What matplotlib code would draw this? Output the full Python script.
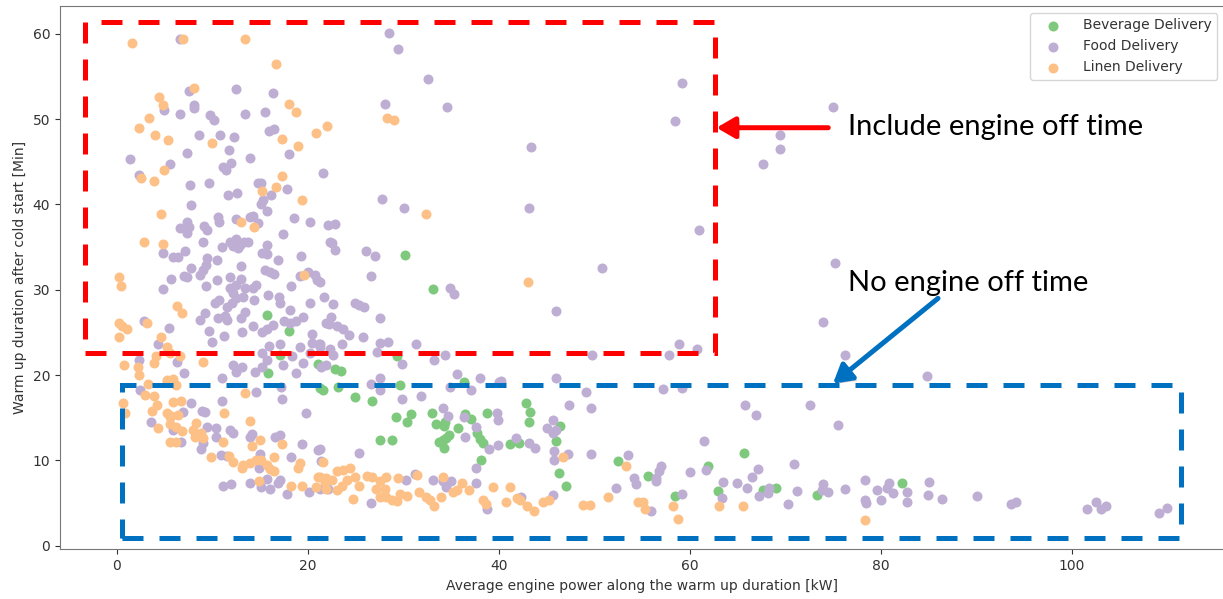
import numpy as np
import matplotlib
matplotlib.use('Agg')
import matplotlib.pyplot as plt
from matplotlib.patches import Rectangle, FancyArrowPatch
import matplotlib.patheffects as pe

# (average engine power [kW], warm up duration [min]) per trip
beverage_points = [
    (18.0, 25.2), (15.7, 27.0), (17.1, 22.4), (21.1, 21.3), (15.8, 20.3), (21.6, 18.3),
    (21.3, 18.5), (23.1, 18.6), (22.8, 20.7), (23.5, 20.5), (29.3, 22.2), (30.2, 34.1),
    (33.1, 30.1), (29.6, 18.8), (36.4, 19.2), (24.9, 17.4), (26.7, 17.0), (42.8, 16.7),
    (43.3, 15.7), (43.2, 14.5), (33.0, 15.6), (33.4, 14.3), (34.3, 14.0), (34.4, 14.5),
    (29.2, 15.1), (30.4, 14.5), (30.8, 15.4), (36.5, 15.4), (37.1, 14.8), (38.8, 15.6),
    (35.7, 13.8), (37.7, 13.2), (38.0, 12.5), (38.3, 12.0), (33.7, 12.1), (34.2, 12.4),
    (34.3, 11.4), (34.8, 13.0), (34.5, 12.6), (27.5, 12.4), (28.8, 12.4), (41.2, 11.9),
    (42.1, 12.0), (46.4, 14.0), (46.0, 12.3), (38.1, 10.1), (46.3, 8.5), (47.0, 7.0),
    (52.5, 9.9), (55.6, 8.2), (61.9, 9.3), (65.7, 10.9), (58.4, 5.8), (63.0, 6.4),
    (67.7, 6.5), (69.0, 6.8), (73.3, 5.9), (82.2, 7.4),
]

food_points = [
    (6.6, 59.4), (7.5, 53.3), (12.5, 53.5), (16.3, 53.1), (4.95, 51.1), (6.6, 50.6),
    (8.1, 51.7), (8.1, 51.3), (9.7, 50.5), (10.2, 49.9), (13.4, 50.6), (15.5, 50.8),
    (8.6, 48.1), (10.8, 48.2), (12.3, 47.9), (15.9, 48.6), (16.4, 48.9), (11.7, 46.4),
    (7.3, 46.0), (1.4, 45.3), (13.9, 45.4), (18.0, 45.9), (5.55, 44.7), (11.9, 44.9),
    (11.1, 44.4), (11.4, 44.0), (2.3, 43.4), (7.6, 42.3), (9.6, 42.5), (14.8, 42.5),
    (15.1, 42.5), (17.8, 41.8), (16.1, 41.1), (21.6, 43.7), (11.6, 41.1), (12.6, 41.4),
    (15.3, 40.5),
    (28.5, 60.1), (29.4, 58.2), (32.6, 54.7), (28.1, 51.8), (34.6, 51.4), (43.4, 46.7),
    (27.8, 40.7),
    (59.2, 54.3), (58.5, 49.8), (75.0, 51.4), (69.4, 48.1), (69.4, 46.5), (67.7, 44.8),
    (61.0, 37.0), (75.2, 33.1),
    (73.9, 26.2), (58.9, 23.6), (57.8, 22.3), (60.8, 23.1), (76.3, 22.3), (57.2, 18.4),
    (59.2, 18.5), (65.8, 16.5), (66.9, 15.3), (72.6, 16.5), (75.5, 14.1), (61.5, 12.3),
    (53.5, 10.6), (57.0, 9.4), (56.8, 8.7), (56.5, 7.9), (56.5, 7.6), (61.7, 8.9),
    (60.0, 8.6), (70.9, 9.6), (67.1, 9.0), (66.5, 8.0), (54.2, 7.9), (54.4, 7.2),
    (52.3, 6.8), (63.5, 7.5), (64.9, 7.4), (66.0, 6.8), (63.4, 5.6), (68.3, 6.8),
    (68.2, 6.2), (67.2, 5.8), (71.2, 6.4), (70.3, 4.85), (74.0, 7.2), (73.8, 6.5),
    (74.5, 6.3), (76.3, 6.6), (78.4, 7.7), (78.4, 5.4), (78.5, 5.0), (79.6, 6.5),
    (80.0, 5.4), (80.9, 7.4), (80.7, 6.8), (81.3, 6.2), (82.8, 6.3), (82.8, 5.1),
    (55.9, 4.1), (59.2, 6.1),
    (84.8, 19.9), (85.1, 7.5), (85.0, 6.0), (86.4, 5.5), (90.1, 5.8), (93.6, 4.85),
    (94.2, 5.1), (101.6, 4.3), (102.5, 5.1), (103.1, 4.3), (103.6, 4.6), (109.1, 3.8),
    (110.0, 4.4),
    (30.1, 39.6), (43.2, 39.6), (22.1, 37.6), (22.8, 37.7), (22.5, 35.5), (22.8, 34.7),
    (26.1, 34.5), (27.0, 34.0), (50.8, 32.6), (26.6, 31.6), (34.9, 30.2), (35.3, 29.5),
    (21.3, 30.9), (21.7, 29.2), (22.6, 28.3), (24.9, 28.5), (25.4, 28.2), (25.9, 28.0),
    (46.0, 27.5), (22.4, 26.8), (22.2, 26.0), (27.6, 26.7), (23.0, 25.7), (23.7, 25.4),
    (24.3, 24.7), (25.8, 24.5), (21.3, 23.6), (23.6, 23.6), (27.5, 23.8), (28.4, 23.9),
    (31.3, 23.6), (27.2, 22.7), (22.6, 22.3), (34.4, 22.3), (33.2, 21.8), (49.8, 22.3),
    (29.9, 21.3), (21.4, 21.0), (21.9, 21.2), (27.5, 19.7), (35.6, 20.1), (38.0, 19.7),
    (46.0, 19.7), (40.2, 19.3), (26.6, 19.0), (34.9, 18.6),
    (27.5, 18.3), (31.8, 17.5), (29.9, 17.2), (37.1, 18.3), (40.0, 19.2), (49.1, 18.0),
    (49.7, 16.2), (47.3, 16.5), (34.1, 16.2), (34.7, 15.2), (36.3, 15.05), (39.8, 15.6),
    (39.9, 14.7), (37.6, 13.95), (36.5, 12.7), (25.3, 10.9), (21.3, 11.3), (39.0, 11.3),
    (39.9, 11.8), (41.8, 12.6), (43.2, 12.0), (43.8, 11.4), (45.0, 13.8), (45.7, 14.7),
    (46.0, 13.6), (45.7, 13.2), (45.8, 11.1), (45.8, 10.0), (47.2, 10.75), (49.6, 10.75),
    (37.6, 9.1), (45.7, 6.0), (42.3, 5.7), (38.8, 4.3), (37.6, 7.3), (34.5, 6.9),
    (35.0, 7.6), (34.2, 7.6), (33.1, 7.7), (31.2, 8.4), (30.3, 7.7), (26.6, 5.0),
    (21.3, 6.7), (22.1, 6.6),
    (2.4, 18.3), (7.8, 16.7), (11.0, 17.0), (14.6, 18.05), (17.3, 17.2), (17.2, 18.6),
    (6.9, 15.7), (8.9, 15.8), (9.2, 15.7), (19.8, 15.5), (3.6, 14.5), (5.9, 13.6),
    (6.7, 12.2), (9.4, 13.95), (10.4, 13.8), (11.8, 13.6), (12.1, 13.2), (8.8, 11.3),
    (9.0, 12.0), (10.4, 12.7), (13.9, 12.8), (14.1, 13.1), (16.5, 12.7), (17.1, 13.0),
    (19.4, 11.9), (21.1, 11.2), (10.9, 10.6), (11.5, 10.5), (15.0, 10.75), (14.9, 9.1),
    (18.2, 10.4), (21.4, 9.9), (11.1, 7.0), (11.9, 7.2), (13.9, 7.4), (15.1, 6.85),
    (16.0, 6.7), (15.7, 7.8), (16.9, 7.3), (17.1, 7.7), (17.8, 6.1), (20.1, 6.3),
    (7.8, 39.9), (10.6, 38.5), (10.7, 38.0), (7.3, 38.0), (7.5, 37.4), (6.6, 37.2),
    (7.3, 36.6), (9.1, 37.5), (9.4, 37.0), (12.5, 38.3), (13.9, 38.5), (14.2, 38.65),
    (14.8, 37.8), (15.1, 40.1), (15.7, 39.2), (18.5, 38.4), (20.2, 38.0), (17.4, 36.5),
    (4.8, 34.3), (5.9, 33.9), (6.4, 33.9), (7.1, 34.5), (9.0, 35.6), (11.0, 35.0),
    (11.8, 35.6), (12.5, 36.0), (12.9, 35.25), (13.3, 35.6), (13.75, 35.6), (12.2, 35.1),
    (12.7, 34.9), (15.15, 34.35), (15.7, 35.25), (15.7, 34.2), (19.3, 34.0), (16.9, 33.5),
    (22.3, 35.6), (10.5, 33.5), (9.4, 33.7), (9.3, 32.9), (9.0, 32.3), (8.7, 31.7),
    (7.8, 32.6), (7.0, 31.6), (7.3, 31.5), (5.65, 31.3), (4.8, 30.1), (13.0, 32.8),
    (13.0, 31.3), (10.5, 31.2), (11.8, 31.5), (15.5, 32.3), (16.0, 32.1), (16.4, 31.9),
    (19.2, 31.6), (20.0, 32.1), (20.7, 31.7), (20.9, 31.1), (18.2, 30.4), (9.3, 30.4),
    (11.8, 30.2), (12.5, 30.6), (13.4, 30.2), (14.2, 30.2), (14.6, 30.6), (12.2, 29.6),
    (12.5, 29.0), (13.2, 29.2), (14.4, 28.8), (15.8, 29.4), (17.0, 29.1), (17.1, 28.4),
    (20.2, 28.5), (10.3, 28.4), (10.7, 28.8), (11.5, 28.0), (12.0, 28.4), (9.2, 27.3),
    (8.7, 26.5), (10.6, 26.7), (11.3, 26.9), (11.5, 26.5), (13.4, 27.4), (13.0, 26.7),
    (18.1, 27.6), (18.7, 26.3), (14.2, 25.8), (16.3, 25.9), (15.7, 25.4), (15.15, 25.0),
    (20.45, 24.8), (21.9, 26.1), (9.6, 25.2), (9.9, 23.9), (11.2, 24.6), (13.05, 25.0),
    (2.8, 26.4), (5.4, 25.5), (4.3, 23.7), (17.5, 26.3), (18.1, 26.1), (19.5, 26.8),
    (20.4, 23.8), (21.2, 23.6), (22.3, 23.1), (17.1, 23.7), (15.9, 23.4), (15.15, 22.6),
    (15.7, 21.8), (19.2, 23.3), (13.05, 21.0), (12.5, 20.4), (12.2, 21.2), (14.45, 20.4),
    (15.15, 20.9), (17.4, 21.2), (18.3, 22.2), (19.5, 21.4), (20.2, 22.6), (21.3, 23.3),
    (18.8, 20.3), (7.05, 20.3), (6.25, 21.5), (2.3, 21.8), (11.0, 19.7),
]

linen_points = [
    (1.6, 58.9), (6.9, 59.4), (13.4, 59.4), (16.7, 56.5), (8.1, 53.6), (4.4, 52.6),
    (4.8, 51.7), (18.0, 51.8), (18.8, 50.8), (3.4, 50.1), (2.3, 49.0), (4.0, 48.1),
    (5.35, 47.6), (17.3, 47.7), (19.0, 46.9), (20.8, 48.4), (22.0, 49.2), (10.0, 47.2),
    (4.9, 44.1), (2.5, 43.1), (3.9, 42.8), (17.3, 43.3), (16.7, 42.1), (15.2, 41.6),
    (19.4, 40.5), (28.3, 50.1), (29.0, 49.9),
    (53.3, 9.4), (54.6, 5.1), (55.1, 5.1), (55.3, 4.3), (58.2, 4.65), (58.8, 3.1),
    (63.1, 4.65), (65.6, 4.65), (78.4, 3.0), (32.4, 38.9), (43.0, 30.9),
    (46.7, 10.4), (51.4, 5.7), (49.5, 4.8), (48.8, 4.8), (44.6, 5.1), (45.3, 5.4),
    (43.7, 4.1), (42.9, 4.65), (42.2, 5.4), (41.9, 5.55), (40.7, 5.1), (41.2, 6.85),
    (39.4, 6.85), (38.3, 5.4), (38.7, 4.9), (36.9, 6.5), (36.1, 7.3), (35.6, 6.5),
    (35.2, 6.3), (34.2, 8.0), (33.9, 5.7), (33.2, 4.65), (32.8, 5.4), (32.4, 5.7),
    (31.6, 6.3), (31.4, 8.3), (30.4, 5.8), (29.6, 6.1), (29.4, 7.9), (29.3, 5.2),
    (28.8, 5.4), (28.2, 5.75), (27.5, 5.75), (27.1, 6.7), (28.1, 6.7), (28.2, 8.1),
    (27.6, 7.6), (26.7, 8.0), (26.2, 8.2), (24.7, 5.5), (25.4, 7.0), (24.9, 8.0),
    (24.1, 7.7), (23.6, 7.0), (23.0, 6.5), (24.4, 9.1), (23.7, 8.9), (23.0, 8.7),
    (22.5, 7.7), (21.8, 7.5), (21.3, 8.0), (21.6, 9.85),
    (3.2, 19.0), (5.2, 19.2), (6.2, 18.8), (0.6, 16.7), (0.8, 15.5), (2.9, 17.7),
    (3.9, 17.5), (4.2, 16.5), (3.7, 15.8), (5.9, 16.9), (6.7, 17.0), (13.4, 17.9),
    (5.2, 15.5), (5.7, 15.2), (6.4, 15.3), (11.2, 15.5), (13.9, 14.6), (4.3, 13.8),
    (5.5, 14.3), (6.2, 13.95), (5.55, 15.1), (5.55, 12.2), (6.2, 12.1), (6.8, 13.4),
    (8.3, 14.35), (8.0, 13.6), (8.2, 12.8), (8.8, 13.2), (9.0, 12.6), (11.1, 12.1),
    (9.8, 10.4), (14.1, 11.7), (15.0, 12.4), (17.3, 11.9), (11.7, 10.5), (12.2, 9.85),
    (13.1, 9.1), (13.2, 9.5), (13.9, 9.7), (14.6, 10.05), (15.1, 10.05), (15.7, 9.5),
    (16.0, 9.0), (16.4, 10.4), (16.4, 8.8), (19.2, 9.65), (19.0, 9.1), (14.9, 7.6),
    (18.2, 7.0), (19.4, 7.0), (20.8, 6.85), (21.1, 8.1), (21.9, 7.9), (21.9, 6.7),
    (4.6, 38.9), (13.0, 37.9), (14.3, 37.4), (2.8, 35.6), (4.8, 35.4), (19.6, 31.7),
    (0.25, 31.5), (0.4, 30.4), (6.25, 28.1), (6.8, 27.3), (0.25, 26.1), (0.5, 25.8),
    (1.0, 25.4), (0.25, 24.5), (3.1, 26.1), (4.6, 24.5), (5.2, 23.3), (5.55, 22.6),
    (0.7, 21.2), (3.9, 21.4), (4.1, 22.2), (6.6, 22.2), (9.0, 21.5), (2.3, 20.0),
    (2.2, 21.0), (5.2, 19.4), (5.9, 19.6),
]

categories = ['Beverage Delivery', 'Food Delivery', 'Linen Delivery']
colors = ['#7fc97f', '#beaed4', '#fdc086']   # Accent colormap

# highlighted regions (x0, y0, x1, y1) in data units
engine_off_box = (-3.35, 22.6, 62.6, 61.4)
no_engine_off_box = (0.5, 0.9, 111.5, 18.8)

fig = plt.figure(figsize=(12.23, 5.99), dpi=100)
ax = fig.add_axes([0.04906, 0.083, 0.9521, 0.907])

for name, pts, col in zip(categories, [beverage_points, food_points, linen_points], colors):
    pts = np.array(pts)
    ax.scatter(pts[:, 0], pts[:, 1], s=52, c=col, linewidths=0, label=name, zorder=2)

ax.set_xlim(-5.97, 116.0)
ax.set_ylim(-0.42, 63.27)
ax.set_xticks([0, 20, 40, 60, 80, 100])
ax.set_yticks([0, 10, 20, 30, 40, 50, 60])
ax.tick_params(labelsize=10, colors='#333333')
for sp in ax.spines.values():
    sp.set_color('#777777')
ax.set_xlabel('Average engine power along the warm up duration [kW]', fontsize=10, color='#333333')
ax.set_ylabel('Warm up duration after cold start [Min]', fontsize=10, color='#333333')

leg = ax.legend(loc='upper right', fontsize=10, frameon=True, scatterpoints=1,
                handlelength=2.4, handletextpad=1.0)
leg.get_frame().set_edgecolor('#cccccc')
for t in leg.get_texts():
    t.set_color('#333333')

# dashed boxes around the two groups of trips
for (x0, y0, x1, y1), col in [(engine_off_box, '#ff0000'), (no_engine_off_box, '#0070c0')]:
    ax.add_patch(Rectangle((x0, y0), x1 - x0, y1 - y0, fill=False, edgecolor=col,
                           linewidth=3.6, linestyle=(0, (4.2, 3.2)), zorder=5, clip_on=False))

shadow = [pe.SimplePatchShadow(offset=(2, -2), alpha=0.3), pe.Normal()]

red_arrow = FancyArrowPatch((74.5, 49.0), (62.8, 49.0), arrowstyle='-|>,head_length=0.55,head_width=0.32',
                            mutation_scale=20, color='#ff0000', linewidth=3.6, zorder=6,
                            shrinkA=0, shrinkB=0, clip_on=False)
red_arrow.set_path_effects(shadow)
ax.add_patch(red_arrow)

blue_arrow = FancyArrowPatch((86.0, 29.0), (75.0, 19.0), arrowstyle='-|>,head_length=0.55,head_width=0.32',
                             mutation_scale=20, color='#0070c0', linewidth=3.6, zorder=6,
                             shrinkA=0, shrinkB=0, clip_on=False)
blue_arrow.set_path_effects(shadow)
ax.add_patch(blue_arrow)

fig.text(0.6934, 0.7746, 'Include engine off time', fontsize=21, family='Lato', va='baseline')
fig.text(0.6934, 0.5142, 'No engine off time', fontsize=21, family='Lato', va='baseline')

fig.savefig('out.png', dpi=100)
